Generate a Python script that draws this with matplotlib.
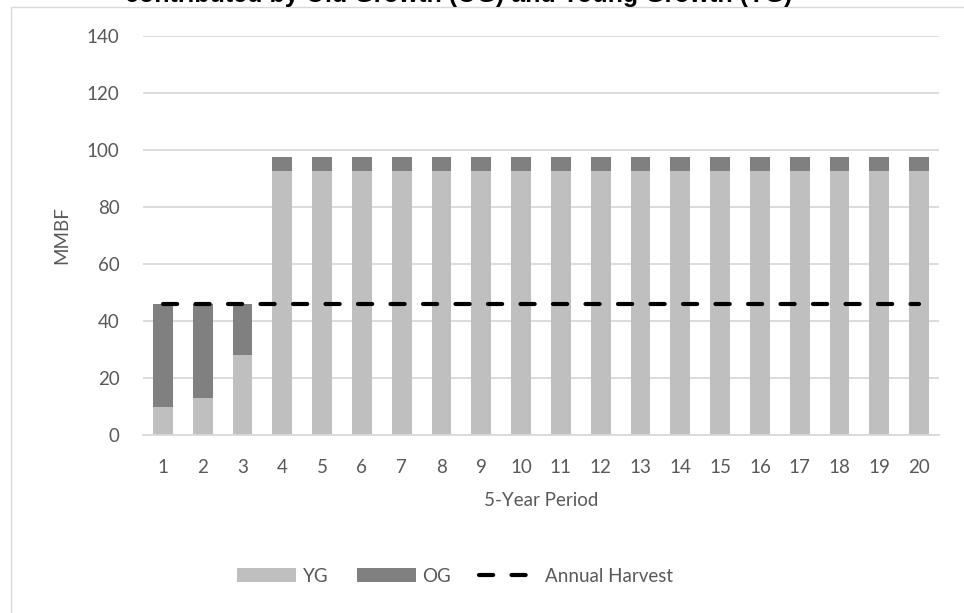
import numpy as np
import matplotlib.pyplot as plt
from matplotlib.patches import Rectangle

plt.rcParams["font.family"] = ["Lato", "DejaVu Sans"]

# Harvest volume per 5-year period (MMBF)
periods = list(range(1, 21))
yg = [10, 13, 28] + [92.6] * 17
og = [36, 33, 18] + [4.9] * 17
annual_harvest = [46] * 20

TEXT = "#595959"
GRID = "#d9d9d9"
YG_COLOR = "#bfbfbf"
OG_COLOR = "#808080"

fig = plt.figure(figsize=(9.64, 6.13), dpi=100)
W, H = 964, 613

# chart area border (runs off the right and bottom edges)
fig.patches.append(Rectangle((11 / W, -0.05), 1.1, (H - 7) / H + 0.05,
                             transform=fig.transFigure, fill=False,
                             edgecolor=GRID, linewidth=1.0))

# title sits mostly above the visible area
fig.text(792 / W, (H - 2) / H, "contributed by Old Growth (OG) and Young Growth (YG)",
         ha="right", va="baseline", fontsize=18, fontweight="bold",
         family=["Liberation Sans", "DejaVu Sans"], color="black")

ax = fig.add_axes([143 / W, (H - 435) / H, 796 / W, 399 / H])

x = np.array(periods)
b_yg = ax.bar(x, yg, width=0.5, color=YG_COLOR, label="YG", zorder=2)
b_og = ax.bar(x, og, width=0.5, bottom=yg, color=OG_COLOR, label="OG", zorder=2)
ln, = ax.plot(x, annual_harvest, color="black", linewidth=3,
              linestyle=(0, (3.4, 4.4)), dash_capstyle="round",
              label="Annual Harvest", zorder=3)

ax.set_xlim(0.5, 20.5)
ax.set_ylim(0, 140)
ax.set_yticks(np.arange(0, 141, 20))
ax.set_xticks(x)
ax.grid(axis="y", color=GRID, linewidth=1.3, zorder=0)
ax.set_axisbelow(True)

for s in ["top", "right", "left"]:
    ax.spines[s].set_visible(False)
ax.spines["bottom"].set_color(GRID)
ax.spines["bottom"].set_linewidth(1.3)

ax.tick_params(axis="both", length=0, labelsize=13.5, colors=TEXT)
ax.tick_params(axis="y", pad=17)
ax.tick_params(axis="x", pad=17)

ax.set_xlabel("5-Year Period", fontsize=13.5, color=TEXT, labelpad=12)
ax.set_ylabel("MMBF", fontsize=13.5, color=TEXT, labelpad=12)

leg = fig.legend([b_yg, b_og, ln], ["YG", "OG", "Annual Harvest"],
                 loc="center", bbox_to_anchor=(455 / W, (H - 576) / H),
                 ncol=3, frameon=False, fontsize=13.5,
                 handlelength=3.15, handleheight=0.7, handletextpad=0.35,
                 columnspacing=1.5)
for t in leg.get_texts():
    t.set_color(TEXT)

fig.savefig("out.png", dpi=100)
